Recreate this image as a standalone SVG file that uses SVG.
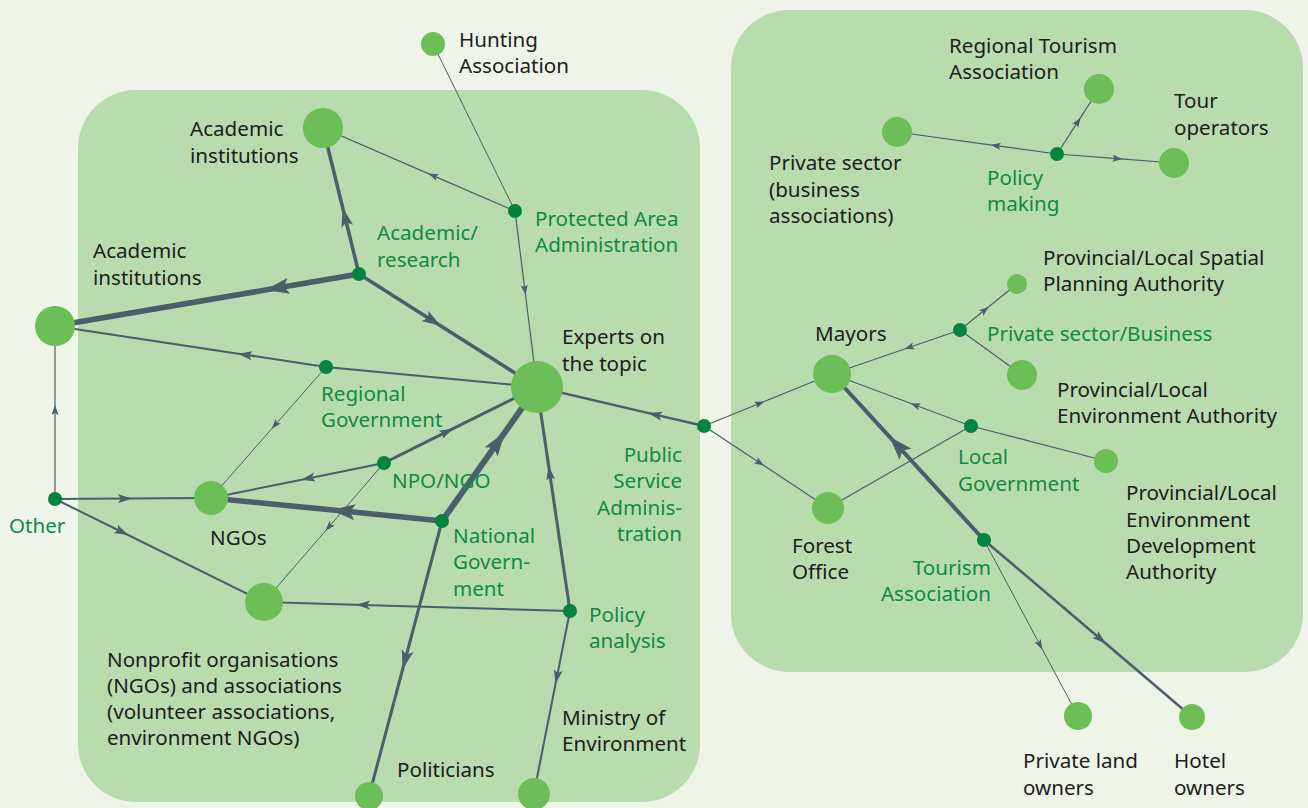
<svg xmlns="http://www.w3.org/2000/svg" width="1308" height="808" viewBox="0 0 1308 808">
<style>
.c{fill:none;stroke:#4b5e6b;stroke-linecap:butt}
.n{fill:#6dbe56}
.d{fill:#00843e}
.t{font-family:"Noto Sans",sans-serif;font-size:20.6px;fill:#1d1d1b}
.g{font-family:"Noto Sans",sans-serif;font-size:20.6px;fill:#0f8a45}
</style>
<defs>
<marker id="a1" markerUnits="userSpaceOnUse" orient="auto" markerWidth="10" markerHeight="7" refX="5" refY="3.5" overflow="visible"><path d="M0,0 L10,3.5 L0,7 L2,3.5 z" fill="#4b5e6b"/></marker>
<marker id="a2" markerUnits="userSpaceOnUse" orient="auto" markerWidth="14" markerHeight="9" refX="7" refY="4.5" overflow="visible"><path d="M0,0 L14,4.5 L0,9 L3,4.5 z" fill="#4b5e6b"/></marker>
<marker id="a3" markerUnits="userSpaceOnUse" orient="auto" markerWidth="19" markerHeight="12" refX="9.5" refY="6" overflow="visible"><path d="M0,0 L19,6 L0,12 L4,6 z" fill="#4b5e6b"/></marker>
<marker id="a4" markerUnits="userSpaceOnUse" orient="auto" markerWidth="24" markerHeight="16" refX="12" refY="8" overflow="visible"><path d="M0,0 L24,8 L0,16 L5,8 z" fill="#4b5e6b"/></marker>
</defs>
<rect width="1308" height="808" fill="#eef5e8"/>
<g id="panels">
<rect x="78" y="90" width="622" height="712" rx="58" ry="58" fill="#b8dcae"/>
<rect x="731" y="10" width="572" height="662" rx="58" ry="58" fill="#b8dcae"/>
</g>
<g id="connectors">
<path class="c" stroke-width="1" d="M433,44 L515,211"/>
<path class="c" stroke-width="1.2" marker-mid="url(#a1)" d="M515,211 L524.9,290 L537,387"/>
<path class="c" stroke-width="1.2" marker-mid="url(#a1)" d="M515,211 L433,175.6 L323,128"/>
<path class="c" stroke-width="3.5" marker-mid="url(#a3)" d="M359,274 L345,217 L323,128"/>
<path class="c" stroke-width="5.5" marker-mid="url(#a4)" d="M359,274 L277,288 L55,326"/>
<path class="c" stroke-width="3.5" marker-mid="url(#a3)" d="M359,274 L433,321 L537,387"/>
<path class="c" stroke-width="2" marker-mid="url(#a2)" d="M326,367 L245,354.7 L55,326"/>
<path class="c" stroke-width="2" d="M326,367 L537,387"/>
<path class="c" stroke-width="1" marker-mid="url(#a1)" d="M326,367 L275,425 L211,498"/>
<path class="c" stroke-width="3" marker-mid="url(#a2)" d="M384,463 L447,431.7 L537,387"/>
<path class="c" stroke-width="2" marker-mid="url(#a2)" d="M384,463 L308,478.4 L211,498"/>
<path class="c" stroke-width="1" marker-mid="url(#a1)" d="M384,463 L328.8,527 L264,602"/>
<path class="c" stroke-width="6" marker-mid="url(#a4)" d="M442,521 L498,442 L537,387"/>
<path class="c" stroke-width="5.5" marker-mid="url(#a4)" d="M442,521 L343,511.1 L211,498"/>
<path class="c" stroke-width="3" marker-mid="url(#a3)" d="M442,521 L405.1,660 L369,796"/>
<path class="c" stroke-width="3" marker-mid="url(#a2)" d="M570,611 L549.7,473 L537,387"/>
<path class="c" stroke-width="2" marker-mid="url(#a2)" d="M570,611 L363,604.9 L264,602"/>
<path class="c" stroke-width="2" marker-mid="url(#a2)" d="M570,611 L556.9,677 L534,793"/>
<path class="c" stroke-width="1.2" marker-mid="url(#a1)" d="M55,499 L55,410 L55,326"/>
<path class="c" stroke-width="2" marker-mid="url(#a2)" d="M55,499 L125,498.6 L211,498"/>
<path class="c" stroke-width="2" marker-mid="url(#a2)" d="M55,499 L122,532 L264,602"/>
<path class="c" stroke-width="2.5" marker-mid="url(#a2)" d="M704,426 L655,414.6 L537,387"/>
<path class="c" stroke-width="1.2" marker-mid="url(#a1)" d="M704,426 L760,403.25 L832,374"/>
<path class="c" stroke-width="1.2" marker-mid="url(#a1)" d="M704,426 L760,463 L828,508"/>
<path class="c" stroke-width="1.2" marker-mid="url(#a1)" d="M1057,154 L995.6,145.6 L897,132"/>
<path class="c" stroke-width="1.2" marker-mid="url(#a1)" d="M1057,154 L1077.9,121.7 L1099,89"/>
<path class="c" stroke-width="1.2" marker-mid="url(#a1)" d="M1057,154 L1117.5,158.7 L1174,163"/>
<path class="c" stroke-width="1.2" marker-mid="url(#a1)" d="M960,330 L909,347.5 L832,374"/>
<path class="c" stroke-width="1.2" marker-mid="url(#a1)" d="M960,330 L985,309.8 L1017,284"/>
<path class="c" stroke-width="1.2" d="M960,330 L1022,375"/>
<path class="c" stroke-width="1.2" marker-mid="url(#a1)" d="M971,426 L915,405 L832,374"/>
<path class="c" stroke-width="1.2" d="M971,426 L1106,461"/>
<path class="c" stroke-width="1.2" d="M971,426 L828,508"/>
<path class="c" stroke-width="4" marker-mid="url(#a4)" d="M984,540 L897.4,445.4 L832,374"/>
<path class="c" stroke-width="1" marker-mid="url(#a1)" d="M984,540 L1040,645 L1078,716"/>
<path class="c" stroke-width="2.5" marker-mid="url(#a2)" d="M984,540 L1100.5,639 L1192,717"/>
</g>
<g id="hunting"><circle class="n" cx="433" cy="44" r="12"/><text class="t" x="459" y="47">Hunting</text><text class="t" x="459" y="73">Association</text></g>
<g id="academic-top"><circle class="n" cx="323" cy="128" r="20"/><text class="t" x="190" y="136">Academic</text><text class="t" x="190" y="163">institutions</text></g>
<g id="academic-left"><circle class="n" cx="55" cy="326" r="20"/><text class="t" x="93" y="258">Academic</text><text class="t" x="93" y="285">institutions</text></g>
<g id="experts"><circle class="n" cx="537" cy="387" r="26"/><text class="t" x="562" y="344">Experts on</text><text class="t" x="562" y="371">the topic</text></g>
<g id="ngos"><circle class="n" cx="211" cy="498" r="17"/><text class="t" x="210" y="545">NGOs</text></g>
<g id="nonprofit"><circle class="n" cx="264" cy="602" r="19"/><text class="t" x="107" y="667">Nonprofit organisations</text><text class="t" x="107" y="693">(NGOs) and associations</text><text class="t" x="107" y="719">(volunteer associations,</text><text class="t" x="107" y="745">environment NGOs)</text></g>
<g id="politicians"><circle class="n" cx="369" cy="796" r="14"/><text class="t" x="397" y="777">Politicians</text></g>
<g id="ministry"><circle class="n" cx="534" cy="794" r="16"/><text class="t" x="562" y="725">Ministry of</text><text class="t" x="562" y="751">Environment</text></g>
<g id="academic-research"><circle class="d" cx="359" cy="274" r="7"/><text class="g" x="377" y="240">Academic/</text><text class="g" x="377" y="267">research</text></g>
<g id="protected-area"><circle class="d" cx="515" cy="211" r="7"/><text class="g" x="535" y="226">Protected Area</text><text class="g" x="535" y="252">Administration</text></g>
<g id="regional-government"><circle class="d" cx="326" cy="367" r="7"/><text class="g" x="321" y="401">Regional</text><text class="g" x="321" y="427">Government</text></g>
<g id="npo-ngo"><circle class="d" cx="384" cy="463" r="7"/><text class="g" x="392" y="488">NPO/NGO</text></g>
<g id="national-government"><circle class="d" cx="442" cy="521" r="7"/><text class="g" x="453" y="543">National</text><text class="g" x="453" y="569">Govern-</text><text class="g" x="453" y="596">ment</text></g>
<g id="public-service"><circle class="d" cx="704" cy="426" r="7"/><text class="g" x="682" y="462" text-anchor="end">Public</text><text class="g" x="682" y="488" text-anchor="end">Service</text><text class="g" x="682" y="515" text-anchor="end">Adminis-</text><text class="g" x="682" y="541" text-anchor="end">tration</text></g>
<g id="policy-analysis"><circle class="d" cx="570" cy="611" r="7"/><text class="g" x="589" y="622">Policy</text><text class="g" x="589" y="648">analysis</text></g>
<g id="other"><circle class="d" cx="55" cy="499" r="7"/><text class="g" x="9" y="533">Other</text></g>
<g id="regional-tourism"><circle class="n" cx="1099" cy="89" r="15"/><text class="t" x="949" y="53">Regional Tourism</text><text class="t" x="949" y="79">Association</text></g>
<g id="private-sector"><circle class="n" cx="897" cy="132" r="15"/><text class="t" x="769" y="170">Private sector</text><text class="t" x="769" y="197">(business</text><text class="t" x="769" y="223">associations)</text></g>
<g id="tour-operators"><circle class="n" cx="1174" cy="163" r="15"/><text class="t" x="1174" y="108">Tour</text><text class="t" x="1174" y="135">operators</text></g>
<g id="policy-making"><circle class="d" cx="1057" cy="154" r="7"/><text class="g" x="987" y="185">Policy</text><text class="g" x="987" y="211">making</text></g>
<g id="spatial-planning"><circle class="n" cx="1017" cy="284" r="10"/><text class="t" x="1043" y="265">Provincial/Local Spatial</text><text class="t" x="1043" y="291">Planning Authority</text></g>
<g id="private-business"><circle class="d" cx="960" cy="330" r="7"/><text class="g" x="987" y="341">Private sector/Business</text></g>
<g id="mayors"><circle class="n" cx="832" cy="374" r="19"/><text class="t" x="815" y="341">Mayors</text></g>
<g id="env-authority"><circle class="n" cx="1022" cy="375" r="15"/><text class="t" x="1057" y="397">Provincial/Local</text><text class="t" x="1057" y="423">Environment Authority</text></g>
<g id="local-government"><circle class="d" cx="971" cy="426" r="7"/><text class="g" x="958" y="464">Local</text><text class="g" x="958" y="491">Government</text></g>
<g id="env-development"><circle class="n" cx="1106" cy="461" r="12"/><text class="t" x="1126" y="500">Provincial/Local</text><text class="t" x="1126" y="527">Environment</text><text class="t" x="1126" y="553">Development</text><text class="t" x="1126" y="579">Authority</text></g>
<g id="forest-office"><circle class="n" cx="828" cy="508" r="16"/><text class="t" x="792" y="553">Forest</text><text class="t" x="792" y="579">Office</text></g>
<g id="tourism-association"><circle class="d" cx="984" cy="540" r="7"/><text class="g" x="991" y="575" text-anchor="end">Tourism</text><text class="g" x="991" y="601" text-anchor="end">Association</text></g>
<g id="private-land"><circle class="n" cx="1078" cy="716" r="14"/><text class="t" x="1023" y="768">Private land</text><text class="t" x="1023" y="795">owners</text></g>
<g id="hotel-owners"><circle class="n" cx="1192" cy="717" r="13"/><text class="t" x="1174" y="768">Hotel</text><text class="t" x="1174" y="795">owners</text></g>
</svg>
